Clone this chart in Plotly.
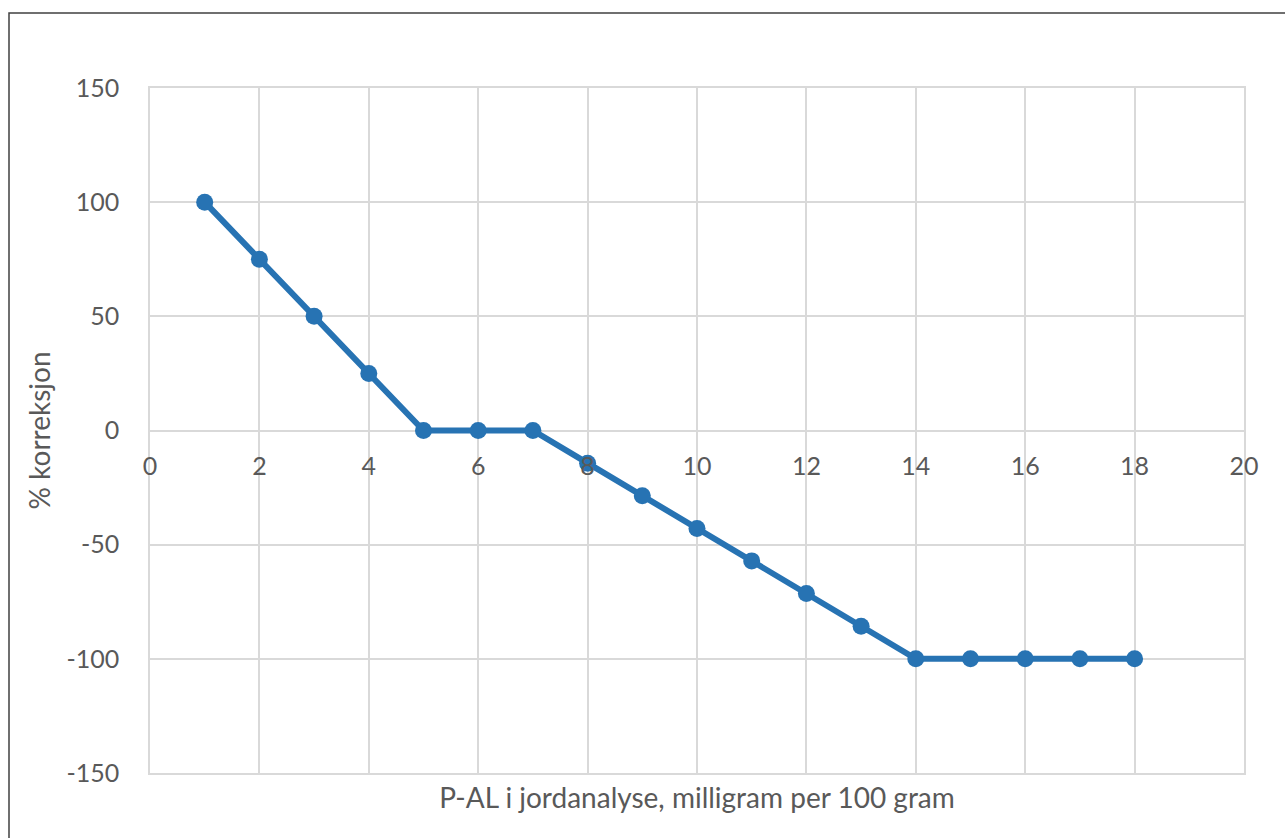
import plotly.graph_objects as go

x_vals = [1, 2, 3, 4, 5, 6, 7, 8, 9, 10, 11, 12, 13, 14, 15, 16, 17, 18]
y_vals = [100, 75, 50, 25, 0, 0, 0, -14.3, -28.6, -42.9, -57.1, -71.4, -85.7,
          -100, -100, -100, -100, -100]
x_ticks = [0, 2, 4, 6, 8, 10, 12, 14, 16, 18, 20]
y_ticks = [-150, -100, -50, 0, 50, 100, 150]
y_tick_labels = ["-150", "-100", "-50", "0", "50", "100", "150"]
x_title = "P-AL i jordanalyse, milligram per 100 gram"
y_title = "% korreksjon"

W, H = 1285, 838
L, R, T, B = 150, 41, 88, 65
pw, ph = W - L - R, H - T - B

font = "Lato, 'Open Sans', sans-serif"
grid = "#d9d9d9"
txt = "#595959"
fs = 25
tfs = 28

fig = go.Figure()
fig.add_trace(go.Scatter(
    x=x_vals, y=y_vals, xaxis="x", yaxis="y",
    mode="lines+markers",
    line=dict(color="#2773B3", width=6),
    marker=dict(color="#2773B3", size=17),
    showlegend=False, hoverinfo="x+y",
))
# invisible trace so the tick-label axis at y=0 is drawn
fig.add_trace(go.Scatter(
    x=[x_ticks[0], x_ticks[-1]], y=[0, 0], xaxis="x2", yaxis="y",
    mode="markers", marker=dict(opacity=0), showlegend=False, hoverinfo="skip",
))

fig.update_layout(
    width=W, height=H,
    margin=dict(l=L, r=R, t=T, b=B),
    paper_bgcolor="white", plot_bgcolor="white",
    font=dict(family=font, color=txt, size=fs),
    xaxis=dict(range=[0, 20], tickvals=x_ticks, showgrid=True, gridcolor=grid, gridwidth=1.5,
               showticklabels=False, zeroline=False, showline=True, mirror=True,
               linecolor=grid, linewidth=1.5, ticks="",
               title=dict(text=x_title, font=dict(size=tfs, color=txt), standoff=15)),
    xaxis2=dict(range=[0, 20], tickvals=x_ticks, overlaying="x", anchor="free", position=0.5,
                showgrid=False, zeroline=False, showline=False, ticks="",
                ticklabelstandoff=18, tickfont=dict(size=fs, color=txt)),
    yaxis=dict(range=[-150, 150], tickvals=y_ticks, ticktext=y_tick_labels,
               showgrid=True, gridcolor=grid, gridwidth=1.5,
               zeroline=True, zerolinecolor=grid, zerolinewidth=1.5,
               showline=True, mirror=True, linecolor=grid, linewidth=1.5,
               ticks="", ticklabelstandoff=24, tickfont=dict(size=fs, color=txt),
               title=dict(text=y_title, font=dict(size=tfs, color=txt), standoff=8)),
    shapes=[dict(type="rect", xref="paper", yref="paper",
                 x0=(9 - L) / pw, x1=(W + 20 - L) / pw,
                 y0=(H - B - (H + 20)) / ph, y1=(H - B - 13) / ph,
                 line=dict(color="#404040", width=1.5), fillcolor="rgba(0,0,0,0)",
                 layer="above")],
)

fig.write_html("out.html")
